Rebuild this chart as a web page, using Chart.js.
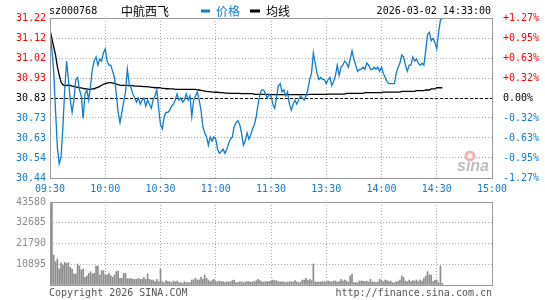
<!DOCTYPE html>
<html>
<head>
<meta charset="utf-8">
<script src="https://cdn.jsdelivr.net/npm/chart.js@4.4.1/dist/chart.umd.min.js"></script>
<style>
  html, body { margin: 0; padding: 0; background: #fff; }
  #wrap { position: relative; width: 545px; height: 300px; }
  #main { position: absolute; left: 0; top: 0; }
  #vol { position: absolute; left: 0; top: 190px; }
</style>
</head>
<body>
<div id="wrap">
  <canvas id="main" width="545" height="200"></canvas>
  <canvas id="vol" width="545" height="110"></canvas>
</div>
<script>
// --- data (one value per minute from 09:30) ---
const stockCode = 'sz000768';
const stockName = '中航西飞';
const stamp = '2026-03-02 14:33:00';
const prevClose = 30.83;
const yMin = 30.44;
const yMax = 31.22;
const volMax = 43580;

const timeLabels = ['09:30', '10:00', '10:30', '11:00', '11:30', '13:30', '14:00', '14:30', '15:00'];
const leftTicks = ['31.22', '31.12', '31.02', '30.93', '30.83', '30.73', '30.63', '30.54', '30.44'];
const rightTicks = ['+1.27%', '+0.95%', '+0.63%', '+0.32%', '0.00%', '-0.32%', '-0.63%', '-0.95%', '-1.27%'];
const volTicks = [0, 10895, 21790, 32685, 43580];
const volTickLabels = ['', '10895', '21790', '32685', '43580'];

const prices = [
  31.15, 31.07, 30.96, 30.77, 30.59, 30.51, 30.54, 30.69, 30.87, 31.01,
  30.92, 30.82, 30.76, 30.82, 30.92, 30.93, 30.87, 30.84, 30.73, 30.85,
  30.87, 30.82, 30.89, 30.97, 31.01, 31.03, 30.99, 31.02, 31.01, 31.05,
  31.07, 31.01, 30.99, 30.99, 30.96, 30.93, 30.85, 30.76, 30.71, 30.76,
  30.81, 30.86, 30.97, 30.90, 30.88, 30.85, 30.83, 30.81, 30.83, 30.80,
  30.82, 30.83, 30.79, 30.82, 30.80, 30.78, 30.82, 30.84, 30.87, 30.78,
  30.70, 30.68, 30.74, 30.76, 30.76, 30.77, 30.79, 30.80, 30.82, 30.85,
  30.82, 30.83, 30.81, 30.82, 30.85, 30.82, 30.84, 30.74, 30.82, 30.84,
  30.86, 30.82, 30.77, 30.69, 30.66, 30.64, 30.60, 30.64, 30.62, 30.64,
  30.63, 30.58, 30.56, 30.57, 30.58, 30.56, 30.58, 30.61, 30.63, 30.64,
  30.69, 30.71, 30.72, 30.70, 30.66, 30.60, 30.62, 30.66, 30.63, 30.65,
  30.68, 30.70, 30.74, 30.80, 30.85, 30.87, 30.87, 30.85, 30.83, 30.85,
  30.84, 30.80, 30.78, 30.83, 30.89, 30.90, 30.86, 30.87, 30.84, 30.86,
  30.80, 30.77, 30.80, 30.82, 30.80, 30.82, 30.84, 30.83, 30.82, 30.84,
  30.87, 30.92, 30.95, 31.05, 31.00, 30.95, 30.92, 30.93, 30.92, 30.92,
  30.90, 30.92, 30.93, 30.89, 30.91, 30.94, 30.99, 30.94, 30.98, 30.99,
  31.01, 31.00, 30.98, 31.02, 31.06, 31.02, 30.99, 30.96, 30.97, 30.97,
  30.98, 30.97, 31.00, 30.99, 30.97, 30.97, 30.98, 30.97, 30.98, 30.96,
  30.98, 30.95, 30.93, 30.91, 30.90, 30.90, 30.90, 30.90, 30.95, 30.98,
  31.00, 31.04, 31.03, 30.99, 30.96, 30.99, 30.99, 31.03, 31.01, 31.02,
  31.00, 30.99, 31.00, 30.99, 31.06, 31.14, 31.15, 31.11, 31.12, 31.10,
  31.07, 31.15, 31.21, 31.22
];

const avgPrices = [
  31.162, 31.121, 31.080, 31.040, 30.983, 30.942, 30.908, 30.895, 30.890, 30.892,
  30.893, 30.892, 30.888, 30.887, 30.884, 30.882, 30.880, 30.879, 30.877, 30.875,
  30.874, 30.872, 30.872, 30.874, 30.875, 30.879, 30.882, 30.887, 30.892, 30.897,
  30.900, 30.903, 30.905, 30.905, 30.903, 30.902, 30.898, 30.895, 30.893, 30.892,
  30.892, 30.892, 30.892, 30.890, 30.890, 30.890, 30.888, 30.888, 30.888, 30.887,
  30.887, 30.885, 30.885, 30.884, 30.884, 30.882, 30.882, 30.880, 30.880, 30.880,
  30.879, 30.877, 30.877, 30.875, 30.875, 30.874, 30.874, 30.874, 30.872, 30.872,
  30.872, 30.872, 30.872, 30.872, 30.872, 30.872, 30.872, 30.872, 30.872, 30.872,
  30.870, 30.869, 30.867, 30.866, 30.864, 30.862, 30.861, 30.861, 30.859, 30.859,
  30.858, 30.858, 30.856, 30.856, 30.856, 30.854, 30.854, 30.854, 30.853, 30.853,
  30.853, 30.853, 30.853, 30.853, 30.851, 30.851, 30.851, 30.851, 30.851, 30.851,
  30.851, 30.848, 30.848, 30.848, 30.848, 30.848, 30.848, 30.848, 30.848, 30.846,
  30.846, 30.846, 30.846, 30.846, 30.846, 30.846, 30.846, 30.846, 30.846, 30.846,
  30.846, 30.846, 30.846, 30.846, 30.846, 30.846, 30.846, 30.846, 30.846, 30.846,
  30.846, 30.848, 30.848, 30.848, 30.848, 30.848, 30.848, 30.848, 30.848, 30.848,
  30.848, 30.849, 30.849, 30.849, 30.849, 30.849, 30.849, 30.849, 30.849, 30.849,
  30.849, 30.853, 30.853, 30.853, 30.853, 30.853, 30.853, 30.853, 30.853, 30.853,
  30.853, 30.856, 30.856, 30.856, 30.856, 30.856, 30.856, 30.856, 30.856, 30.856,
  30.856, 30.859, 30.859, 30.859, 30.859, 30.859, 30.859, 30.859, 30.859, 30.859,
  30.859, 30.862, 30.862, 30.862, 30.862, 30.862, 30.862, 30.862, 30.862, 30.866,
  30.866, 30.866, 30.866, 30.866, 30.869, 30.869, 30.869, 30.874, 30.874, 30.874,
  30.880, 30.880, 30.880, 30.880
];

const volumes = [
  8400, 43580, 15750, 12250, 13650, 8400, 11700, 10500, 11900, 11380,
  11700, 9280, 8400, 5780, 5780, 11030, 9980, 7880, 8400, 4030,
  4730, 6130, 7000, 5780, 6130, 9980, 9980, 5250, 7530, 7530,
  5250, 5250, 6130, 4900, 4030, 5250, 7000, 7350, 3500, 3500,
  6130, 6130, 3330, 3330, 3330, 2980, 2980, 2980, 3500, 2980,
  2980, 4030, 2980, 5780, 2980, 2630, 2630, 1750, 2980, 1750,
  8400, 1750, 1225, 2275, 1750, 1750, 1225, 2100, 1750, 2100,
  1225, 1225, 875, 1750, 1225, 1225, 1225, 2625, 2625, 3500,
  2625, 2625, 4030, 2980, 5250, 3500, 2625, 1750, 2275, 2980,
  1750, 1750, 2100, 1750, 1750, 1225, 1750, 1575, 1750, 2275,
  2625, 1225, 1225, 1575, 1750, 1225, 1575, 1750, 1750, 1400,
  1750, 1750, 2275, 2980, 2275, 1750, 1575, 1750, 1750, 1750,
  2100, 2625, 2275, 2275, 1750, 1575, 1750, 1575, 1225, 1575,
  1575, 1750, 1575, 2275, 1575, 1225, 1575, 2625, 2625, 3500,
  2275, 2980, 2275, 11030, 1575, 1575, 1575, 1575, 1750, 1750,
  1575, 2100, 1750, 1575, 2100, 2100, 1575, 1750, 2980, 2100,
  2625, 2100, 1575, 4730, 5780, 1225, 1225, 1225, 2100, 2100,
  2100, 1750, 2100, 1575, 2980, 1575, 1575, 1225, 1575, 2980,
  2625, 1750, 2625, 2275, 1750, 2100, 1225, 1225, 1750, 1750,
  2625, 4730, 4030, 2100, 1750, 2625, 1750, 2275, 2100, 2625,
  1750, 2625, 2100, 3500, 4730, 7000, 5250, 5250, 1750, 2625,
  2625, 1225, 9980, 875
];

// --- styles ---
const MONO = '"DejaVu Sans Mono", monospace';
const CJK = '"Noto Sans CJK SC", sans-serif';
const BLUE = '#0e7ccc';
const RED = '#ff0000';
const GRID = '#aaaaaa';
const FRAME = '#999999';

function rowColor(row) {
  if (row < 4) return RED;
  if (row === 4) return '#000000';
  return BLUE;
}

const frame = {
  id: 'frame',
  afterDraw(chart) {
    const { ctx, chartArea: a } = chart;
    ctx.save();
    ctx.strokeStyle = FRAME;
    ctx.lineWidth = 1;
    ctx.strokeRect(Math.round(a.left) + 0.5, Math.round(a.top) + 0.5,
      Math.round(a.right - a.left), Math.round(a.bottom - a.top));
    ctx.restore();
  }
};

const prevLine = {
  id: 'prevLine',
  beforeDatasetsDraw(chart) {
    const { ctx, chartArea: a } = chart;
    const y = Math.round(chart.scales.y.getPixelForValue(prevClose)) + 0.5;
    ctx.save();
    ctx.strokeStyle = '#000';
    ctx.lineWidth = 1;
    ctx.setLineDash([3, 2]);
    ctx.beginPath();
    ctx.moveTo(a.left, y);
    ctx.lineTo(a.right, y);
    ctx.stroke();
    ctx.restore();
  }
};

const watermark = {
  id: 'watermark',
  beforeDatasetsDraw(chart) {
    const ctx = chart.ctx;
    ctx.save();
    ctx.fillStyle = '#f3b4b4';
    ctx.beginPath();
    ctx.arc(470, 156, 5.5, 0, Math.PI * 2);
    ctx.fill();
    ctx.fillStyle = '#fff';
    ctx.beginPath();
    ctx.arc(470, 156, 2.5, 0, Math.PI * 2);
    ctx.fill();
    ctx.fillStyle = '#bdbdbd';
    ctx.font = 'italic bold 16px "Liberation Sans", sans-serif';
    ctx.textBaseline = 'alphabetic';
    ctx.fillText('sina', 457, 171);
    ctx.restore();
  }
};

const header = {
  id: 'header',
  afterDraw(chart) {
    const ctx = chart.ctx;
    const ds = chart.data.datasets;
    const y = 11;
    ctx.save();
    ctx.textBaseline = 'middle';
    ctx.fillStyle = '#000';
    ctx.font = '10px ' + MONO;
    ctx.fillText(stockCode, 49, y);
    ctx.font = '12px ' + CJK;
    ctx.fillText(stockName, 121, y);
    // legend
    ctx.fillStyle = ds[0].borderColor;
    ctx.fillRect(201, 9.5, 9, 3);
    ctx.fillText(ds[0].label, 216, y);
    ctx.fillStyle = ds[1].borderColor;
    ctx.fillRect(250, 9.5, 10, 3);
    ctx.fillText(ds[1].label, 266, y);
    ctx.fillStyle = '#000';
    ctx.font = '10px ' + MONO;
    ctx.textAlign = 'right';
    ctx.fillText(stamp, 491, y);
    ctx.restore();
  }
};

const footer = {
  id: 'footer',
  afterDraw(chart) {
    const ctx = chart.ctx;
    ctx.save();
    ctx.fillStyle = '#555';
    ctx.font = '10px ' + MONO;
    ctx.textBaseline = 'middle';
    ctx.fillText('Copyright 2026 SINA.COM', 49, 103);
    ctx.textAlign = 'right';
    ctx.fillText('http://finance.sina.com.cn', 492, 103);
    ctx.restore();
  }
};

function priceTicks(scale) {
  const step = (yMax - yMin) / (leftTicks.length - 1);
  scale.ticks = leftTicks.map((_, i) => ({ value: yMin + i * step }));
}
function timeTicks(scale) {
  scale.ticks = timeLabels.map((_, i) => ({ value: i * 30 }));
}

const dotted = { color: GRID, lineWidth: 1, drawTicks: false };

new Chart(document.getElementById('main'), {
  type: 'line',
  data: {
    datasets: [
      {
        label: '价格',
        data: prices.map((p, i) => ({ x: i, y: p })),
        borderColor: BLUE,
        borderWidth: 1.3,
        pointRadius: 0,
        tension: 0
      },
      {
        label: '均线',
        data: avgPrices.map((p, i) => ({ x: i, y: p })),
        borderColor: '#000000',
        borderWidth: 1.3,
        pointRadius: 0,
        tension: 0
      }
    ]
  },
  options: {
    responsive: false,
    animation: false,
    devicePixelRatio: 1,
    layout: { padding: { top: 18 } },
    plugins: { legend: { display: false }, tooltip: { enabled: false } },
    scales: {
      x: {
        type: 'linear', min: 0, max: 240,
        afterBuildTicks: timeTicks,
        afterFit: s => { s.height = 22; },
        ticks: {
          callback: (v, i) => timeLabels[i],
          color: BLUE, font: { family: MONO, size: 10 },
          padding: 5, autoSkip: false, maxRotation: 0
        },
        grid: dotted,
        border: { display: false, dash: [1, 2] }
      },
      y: {
        position: 'left', min: yMin, max: yMax,
        afterBuildTicks: priceTicks,
        afterFit: s => { s.width = 50; },
        ticks: {
          callback: (v, i) => leftTicks[leftTicks.length - 1 - i],
          color: c => rowColor(leftTicks.length - 1 - c.index),
          font: { family: MONO, size: 10 }, padding: 4
        },
        grid: dotted,
        border: { display: false, dash: [1, 2] }
      },
      y2: {
        position: 'right', min: yMin, max: yMax,
        afterBuildTicks: priceTicks,
        afterFit: s => { s.width = 53; },
        ticks: {
          callback: (v, i) => rightTicks[rightTicks.length - 1 - i],
          color: c => rowColor(rightTicks.length - 1 - c.index),
          font: { family: MONO, size: 10 }, padding: 3
        },
        grid: { display: false },
        border: { display: false }
      }
    }
  },
  plugins: [watermark, prevLine, frame, header]
});

new Chart(document.getElementById('vol'), {
  type: 'bar',
  data: {
    datasets: [{
      data: volumes.map((v, i) => ({ x: i, y: v })),
      backgroundColor: '#8c8c8c',
      borderWidth: 0,
      barThickness: 1
    }]
  },
  options: {
    responsive: false,
    animation: false,
    devicePixelRatio: 1,
    layout: { padding: { top: 12, right: 53, bottom: 15 } },
    plugins: { legend: { display: false }, tooltip: { enabled: false } },
    scales: {
      x: {
        type: 'linear', min: 0, max: 240, offset: false,
        afterBuildTicks: timeTicks,
        afterFit: s => { s.height = 0; },
        ticks: { display: false },
        grid: { ...dotted, offset: false },
        border: { display: false, dash: [1, 2] }
      },
      y: {
        min: 0, max: volMax,
        afterBuildTicks: s => { s.ticks = volTicks.map(v => ({ value: v })); },
        afterFit: s => { s.width = 50; },
        ticks: {
          callback: (v, i) => volTickLabels[i],
          color: '#8c8c8c', font: { family: MONO, size: 10 }, padding: 4
        },
        grid: dotted,
        border: { display: false, dash: [1, 2] }
      }
    }
  },
  plugins: [frame, footer]
});
</script>
</body>
</html>
